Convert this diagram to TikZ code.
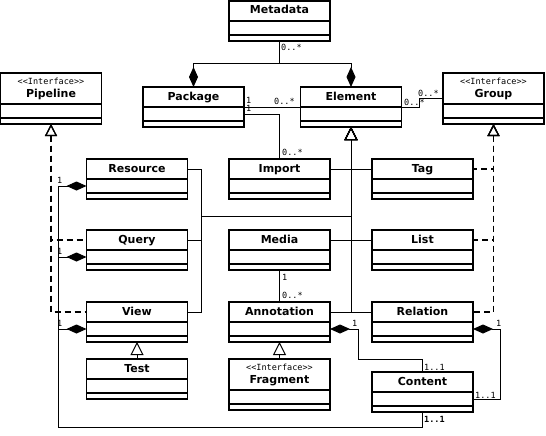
\documentclass[tikz,border=0pt]{standalone}
\usepackage{fontspec}
\setmainfont{DejaVu Sans}
\setmonofont{DejaVu Sans Mono}
\usepackage{tikz}
\usetikzlibrary{arrows.meta,positioning}

\begin{document}
\begin{tikzpicture}[x=1pt,y=-1pt,
        box/.style={draw,line width=1.2pt,minimum width=101pt,inner sep=0pt,outer sep=0pt},
        cls/.style={box,minimum height=20pt,text height=8pt,text depth=2pt,font=\fontsize{11}{13}\selectfont\bfseries},
        icls/.style={box,minimum height=31pt,align=center,font=\fontsize{11}{13}\selectfont\bfseries},
        attr/.style={box,minimum height=14pt},
        ops/.style={box,minimum height=6pt},
        mult/.style={anchor=west,inner sep=0pt,font=\fontsize{8.5}{10}\selectfont\ttfamily},
        comp/.style={{Diamond[length=20pt,width=9pt]}-,line width=1pt},
        gen/.style={{Triangle[open,length=13pt,width=13pt]}-,line width=1pt},
        real/.style={{Triangle[open,length=12pt,width=12pt]}-,line width=1.2pt,dash pattern=on 6pt off 4pt}
    ]
        \useasboundingbox (0,0) rectangle (546,436);
        \begin{scope}
            \node[cls] (Metadata) at (279.5, 11) {Metadata};
            \node[attr, below=0pt of Metadata] (Metadata-a) {};
            \node[ops, below=0pt of Metadata-a] (Metadata-o) {};

            \node[icls] (Pipeline) at (51, 88.5) {{\mdseries\ttfamily\fontsize{8.5}{10}\selectfont <<Interface>>}\\Pipeline};
            \node[attr, below=0pt of Pipeline] (Pipeline-a) {};
            \node[ops, below=0pt of Pipeline-a] (Pipeline-o) {};

            \node[cls] (Package) at (193.5, 97) {Package};
            \node[attr, below=0pt of Package] (Package-a) {};
            \node[ops, below=0pt of Package-a] (Package-o) {};

            \node[cls] (Element) at (351, 97) {Element};
            \node[attr, below=0pt of Element] (Element-a) {};
            \node[ops, below=0pt of Element-a] (Element-o) {};

            \node[icls] (Group) at (493.5, 88.5) {{\mdseries\ttfamily\fontsize{8.5}{10}\selectfont <<Interface>>}\\Group};
            \node[attr, below=0pt of Group] (Group-a) {};
            \node[ops, below=0pt of Group-a] (Group-o) {};

            \node[cls] (Resource) at (137, 169) {Resource};
            \node[attr, below=0pt of Resource] (Resource-a) {};
            \node[ops, below=0pt of Resource-a] (Resource-o) {};

            \node[cls] (Import) at (279.5, 169) {Import};
            \node[attr, below=0pt of Import] (Import-a) {};
            \node[ops, below=0pt of Import-a] (Import-o) {};

            \node[cls] (Tag) at (422.5, 169) {Tag};
            \node[attr, below=0pt of Tag] (Tag-a) {};
            \node[ops, below=0pt of Tag-a] (Tag-o) {};

            \node[cls] (Query) at (137, 240) {Query};
            \node[attr, below=0pt of Query] (Query-a) {};
            \node[ops, below=0pt of Query-a] (Query-o) {};

            \node[cls] (Media) at (279.5, 240) {Media};
            \node[attr, below=0pt of Media] (Media-a) {};
            \node[ops, below=0pt of Media-a] (Media-o) {};

            \node[cls] (List) at (422.5, 240) {List};
            \node[attr, below=0pt of List] (List-a) {};
            \node[ops, below=0pt of List-a] (List-o) {};

            \node[cls] (View) at (137, 312) {View};
            \node[attr, below=0pt of View] (View-a) {};
            \node[ops, below=0pt of View-a] (View-o) {};

            \node[cls] (Annotation) at (279.5, 312) {Annotation};
            \node[attr, below=0pt of Annotation] (Annotation-a) {};
            \node[ops, below=0pt of Annotation-a] (Annotation-o) {};

            \node[cls] (Relation) at (422.5, 312) {Relation};
            \node[attr, below=0pt of Relation] (Relation-a) {};
            \node[ops, below=0pt of Relation-a] (Relation-o) {};

            \node[cls] (Test) at (137, 369) {Test};
            \node[attr, below=0pt of Test] (Test-a) {};
            \node[ops, below=0pt of Test-a] (Test-o) {};

            \node[icls] (Fragment) at (279.5, 374.5) {{\mdseries\ttfamily\fontsize{8.5}{10}\selectfont <<Interface>>}\\Fragment};
            \node[attr, below=0pt of Fragment] (Fragment-a) {};
            \node[ops, below=0pt of Fragment-a] (Fragment-o) {};

            \node[cls] (Content) at (422.5, 382) {Content};
            \node[attr, below=0pt of Content] (Content-a) {};
            \node[ops, below=0pt of Content-a] (Content-o) {};

            \coordinate (join) at (201, 216);
            \coordinate (bus) at (58, 427);
        \end{scope}
        \begin{scope}[line width=1pt]
            \draw[comp] (Package.north) -- ++(0,-23) -| (Metadata-o.south);
            \draw[comp] (Element.north) -- ++(0,-23) -| (Metadata-o.south);
            \draw (Package.south east) -- (Element.south west);
            \draw (Package-a.east) -| (Import.north);
            \draw (Element.south east) -- ++(18,0) |- ([yshift=-9.5pt]Group.west);
            \draw (Media-o.south) -- (Annotation.north);

            \draw[gen] (Element-o.south) |- (Import.east);
            \draw[gen] (Element-o.south) |- (Tag.west);
            \draw[gen] (Element-o.south) |- (join) |- (Resource.east);
            \draw[gen] (Element-o.south) |- (join) |- (Query.east);
            \draw[gen] (Element-o.south) |- (join) |- (View.east);
            \draw[gen] (Element-o.south) |- (Media.east);
            \draw[gen] (Element-o.south) |- (List.west);
            \draw[gen] (Element-o.south) |- (Annotation.east);
            \draw[gen] (Element-o.south) |- (Relation.west);
            \draw[gen] (View-o.south) -- (Test.north);
            \draw[gen] (Annotation-o.south) -- (Fragment.north);

            \draw[real] (Pipeline-o.south) |- (Query.west);
            \draw[real] (Pipeline-o.south) |- (View.west);
            \draw[real] (Group-o.south) |- (Tag.east);
            \draw[real] (Group-o.south) |- (List.east);
            \draw[real] (Group-o.south) |- (Relation.east);

            \draw[comp] (Resource-a.west) -| (bus) -| (Content-o.south);
            \draw[comp] (Query-a.west) -| (bus) -| (Content-o.south);
            \draw[comp] (View-a.west) -| (bus) -| (Content-o.south);
            \draw[comp] (Annotation-a.east) -- ++(28,0) |- ([yshift=13pt]Content.north) -- (Content.north);
            \draw[comp] (Relation-a.east) -- ++(27,0) |- (Content-a.east);
        \end{scope}
        \begin{scope}
            \node[mult] (mMeta) at (281, 47) {0..*};
            \node[mult] (mPkgE1) at (246, 100) {1};
            \node[mult] (mPkgE2) at (274, 101) {0..*};
            \node[mult] (mPkgI1) at (246, 108) {1};
            \node[mult] (mPkgI2) at (282, 152) {0..*};
            \node[mult] (mElG1) at (404, 102) {0..*};
            \node[mult] (mElG2) at (418, 93) {0..*};
            \node[mult] (mMed1) at (282, 277) {1};
            \node[mult] (mMed2) at (282, 295) {0..*};
            \node[mult] (mRes) at (57, 180) {1};
            \node[mult] (mQue) at (57, 251) {1};
            \node[mult] (mVie) at (57, 323) {1};
            \node[mult,font=\fontsize{8.5}{10}\selectfont\ttfamily\bfseries] (mCon) at (424, 419) {1..1};
            \node[mult] (mAnn1) at (352, 323) {1};
            \node[mult] (mAnn2) at (424, 367) {1..1};
            \node[mult] (mRel1) at (496, 323) {1};
            \node[mult] (mRel2) at (475, 395) {1..1};
        \end{scope}
    \end{tikzpicture}
\end{document}
